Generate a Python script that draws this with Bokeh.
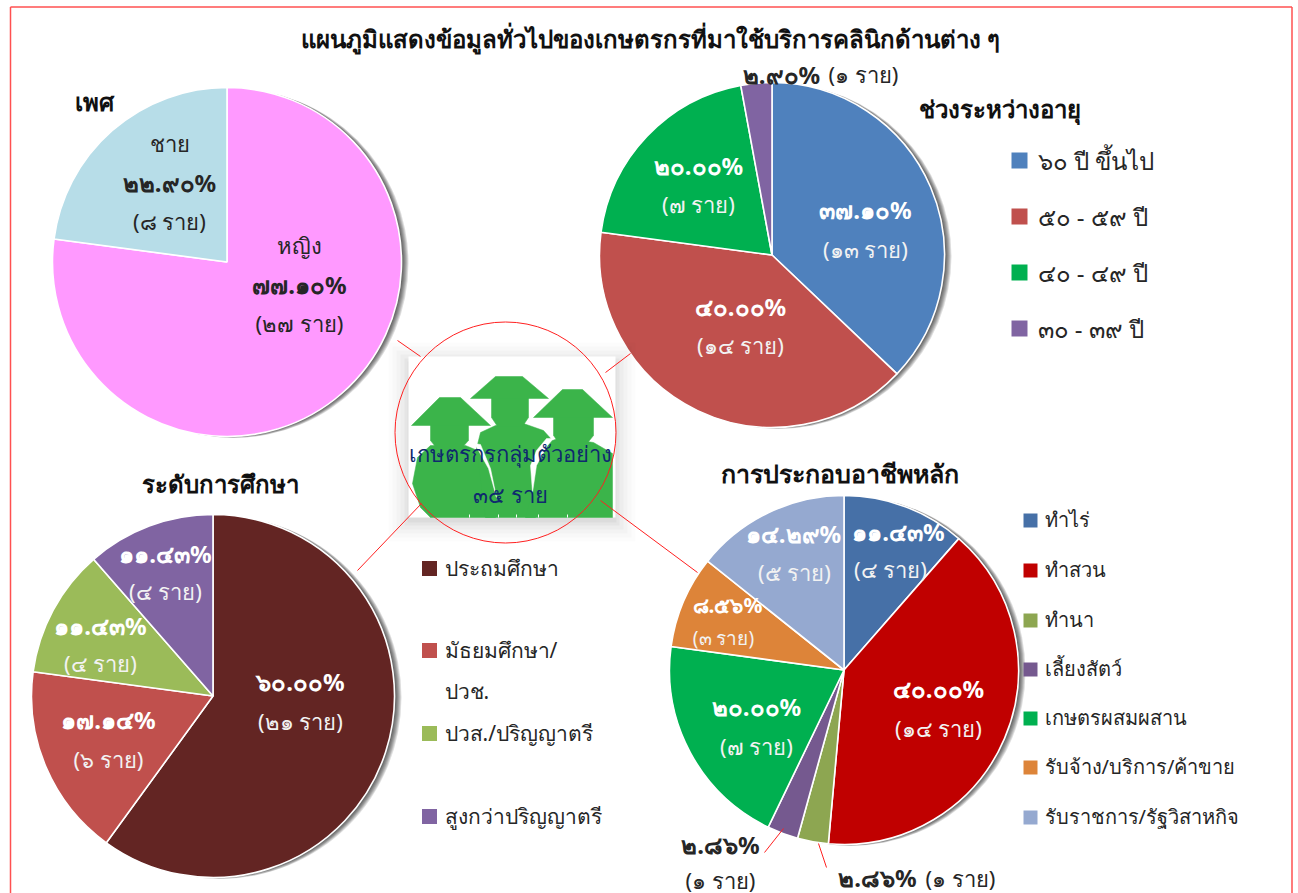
from math import pi
from bokeh.plotting import figure
from bokeh.embed import file_html
from bokeh.resources import INLINE
from bokeh.core.properties import value

FONT = "Noto Sans"
H = 893

# ---------- data ----------
gender_values = [77.10, 22.90]
gender_colors = ["#FF99FF", "#B7DDE8"]
age_values = [37.10, 40.00, 20.00, 2.90]
age_colors = ["#4F81BD", "#C0504D", "#00B050", "#8064A2"]
age_legend = ["๖๐ ปี ขึ้นไป", "๕๐ - ๕๙ ปี", "๔๐ - ๔๙ ปี", "๓๐ - ๓๙ ปี"]
edu_values = [60.00, 17.14, 11.43, 11.43]
edu_colors = ["#632523", "#C0504D", "#9BBB59", "#8064A2"]
edu_legend = ["ประถมศึกษา", "มัธยมศึกษา/", "ปวส./ปริญญาตรี", "สูงกว่าปริญญาตรี"]
job_values = [11.43, 40.00, 2.86, 2.86, 20.00, 8.56, 14.29]
job_colors = ["#4670A7", "#C00000", "#8DA651", "#75598F", "#00B050", "#DD8439", "#95A9D0"]
job_legend = ["ทำไร่", "ทำสวน", "ทำนา", "เลี้ยงสัตว์", "เกษตรผสมผสาน", "รับจ้าง/บริการ/ค้าขาย", "รับราชการ/รัฐวิสาหกิจ"]

p = figure(width=1298, height=893, x_range=(0, 1298), y_range=(0, 893),
           output_backend="svg", toolbar_location=None, min_border=0)
p.axis.visible = False
p.grid.visible = False
p.outline_line_color = None
p.background_fill_color = "white"


def Y(y):
    return H - y


def txt(s, x, y, size=22, bold=False, color="#262626", align="center"):
    p.text([x], [Y(y - 2)], text=[s], text_font=value(FONT), text_font_size=f"{size}px",
           text_font_style="bold" if bold else "normal", text_color=color,
           text_align=align, text_baseline="middle")


def pie(cx, cy, r, values, colors):
    # soft shadow cast to the right
    for k in [7, 6, 5, 4, 3, 2]:
        p.circle([cx + k], [Y(cy + k * 0.2)], radius=r, fill_color="#000000", fill_alpha=0.13, line_color=None)
    total = sum(values)
    start = pi / 2
    for v, c in zip(values, colors):
        end = start - 2 * pi * v / total
        p.wedge([cx], [Y(cy)], radius=r, start_angle=end, end_angle=start,
                fill_color=c, line_color="white", line_width=1.6)
        start = end


# frame
p.line([10, 10], [Y(6.5), Y(893)], line_color="#FF5050", line_width=1.5)
p.line([10, 1291.5], [Y(6.5), Y(6.5)], line_color="#FF5050", line_width=1.5)
p.line([1291.5, 1291.5], [Y(6.5), Y(893)], line_color="#FF5050", line_width=1.5)

pie(226.5, 261.5, 174.5, gender_values, gender_colors)
pie(771.5, 254.5, 172.5, age_values, age_colors)
pie(212.5, 695.5, 181.5, edu_values, edu_colors)
pie(843.5, 669.5, 174.5, job_values, job_colors)

# centre picture
for k, a in zip([20, 16, 12, 8, 4, 1], [0.012, 0.015, 0.02, 0.025, 0.03, 0.035]):
    p.quad(left=408 - k, right=615 + k, top=Y(358 - k + 4), bottom=Y(517 + k + 4), fill_color="black", fill_alpha=a, line_color=None)
p.quad(left=408, right=615, top=Y(356), bottom=Y(517), fill_color="white", line_color=None)
GREEN = "#3BB44A"


def shape(xs, ys, color=GREEN):
    p.patch(xs, [Y(y) for y in ys], fill_color=color, line_color=color, line_width=0.5)


# bodies
shape([430, 420, 412, 417, 430, 465, 477, 495, 495], [517, 507, 483, 457, 445, 445, 450, 497, 517])
shape([485, 476, 480, 495, 523, 543, 552, 540, 535], [517, 448, 432, 425, 423, 430, 440, 470, 517])
shape([525, 540, 552, 560, 593, 612, 612], [517, 460, 440, 437, 442, 453, 517])
# heads
shape([430, 468, 468, 459, 438, 430], [424, 424, 440, 450, 450, 440])
shape([553, 593, 593, 585, 560, 553], [416, 416, 435, 445, 445, 435])
shape([491, 528, 528, 522, 497, 491], [397, 397, 417, 426, 426, 417])
# hats
shape([411, 439, 460, 490], [425, 397, 397, 425])
shape([533, 562, 582, 612], [417, 389, 389, 417])
shape([470, 495, 522, 548], [398, 376, 376, 398])
# white slits between the figures
shape([474, 480, 490, 496, 488], [443, 444, 468, 497, 468], "white")
shape([553, 547, 536, 532, 530, 536, 546], [438, 445, 465, 492, 465, 450, 438], "white")
for tick_x in [469, 498, 516, 538, 567]:
    p.line([tick_x, tick_x], [Y(514), Y(517)], line_color="white", line_width=1)

# connector lines
for (x0, y0, x1, y1) in [(397, 340, 420, 356), (630, 353, 605, 372), (421, 503, 357, 570),
                         (600, 500, 697, 572), (783, 828, 764, 852), (818, 843, 826, 867)]:
    p.line([x0, x1], [Y(y0), Y(y1)], line_color="#FF2020", line_width=1)

p.circle([505], [Y(432)], radius=110.5, fill_color=None, line_color="#FF2020", line_width=1)
txt("เกษตรกรกลุ่มตัวอย่าง", 510, 454, 22, False, "#0F2A6E")
txt("๓๕ ราย", 510, 495, 22, False, "#0F2A6E")

# titles
txt("แผนภูมิแสดงข้อมูลทั่วไปของเกษตรกรที่มาใช้บริการคลินิกด้านต่าง ๆ", 650, 40, 24, True, "#111111")
txt("เพศ", 94, 103, 24, True, "#111111")
txt("ช่วงระหว่างอายุ", 999, 110, 24, True, "#111111")
txt("ระดับการศึกษา", 220, 485, 24, True, "#111111")
txt("การประกอบอาชีพหลัก", 839, 474, 25, True, "#111111")

# gender labels
txt("ชาย", 169, 144)
txt("๒๒.๙๐%", 169, 184, 24, True)
txt("(๘ ราย)", 169, 222)
txt("หญิง", 299, 246)
txt("๗๗.๑๐%", 299, 286, 24, True)
txt("(๒๗ ราย)", 299, 324)

# age labels
txt("๒.๙๐%", 781, 76, 24, True)
txt("(๑ ราย)", 863, 75)
for s, x, y, sz, b in [("๓๗.๑๐%", 865, 211, 24, True), ("(๑๓ ราย)", 865, 250, 22, False),
                       ("๔๐.๐๐%", 740, 308, 24, True), ("(๑๔ ราย)", 740, 346, 22, False),
                       ("๒๐.๐๐%", 698, 167, 24, True), ("(๗ ราย)", 698, 205, 22, False)]:
    txt(s, x, y, sz, b, "white" if b else "#F2F2F2")
for s, c, y in zip(age_legend, age_colors, [160, 216, 272, 328]):
    p.scatter([1019], [Y(y)], marker="square", size=16, fill_color=c, line_color=None)
    txt(s, 1037, y + 2, 24, False, "#262626", "left")

# education labels
for s, x, y, sz, b in [("๖๐.๐๐%", 300, 683, 24, True), ("(๒๑ ราย)", 300, 722, 22, False),
                       ("๑๗.๑๔%", 108, 721, 24, True), ("(๖ ราย)", 108, 760, 22, False),
                       ("๑๑.๔๓%", 100, 627, 24, True), ("(๔ ราย)", 100, 664, 22, False),
                       ("๑๑.๔๓%", 165, 555, 24, True), ("(๔ ราย)", 165, 592, 22, False)]:
    txt(s, x, y, sz, b, "white" if b else "#F2F2F2")
for s, c, y in zip(edu_legend, edu_colors, [568, 650, 733, 816]):
    p.scatter([429], [Y(y)], marker="square", size=15, fill_color=c, line_color=None)
    txt(s, 444, y + 1, 21, False, "#262626", "left")
txt("ปวช.", 444, 692, 21, False, "#262626", "left")

# job labels
for s, x, y, sz, b in [("๑๑.๔๓%", 898, 533, 24, True), ("(๔ ราย)", 890, 570, 22, False),
                       ("๔๐.๐๐%", 938, 690, 24, True), ("(๑๔ ราย)", 938, 729, 22, False),
                       ("๒๐.๐๐%", 756, 708, 24, True), ("(๗ ราย)", 756, 747, 22, False),
                       ("๘.๕๖%", 727, 606, 21, True), ("(๓ ราย)", 723, 639, 19, False),
                       ("๑๔.๒๙%", 793, 535, 24, True), ("(๕ ราย)", 794, 573, 22, False)]:
    txt(s, x, y, sz, b, "white" if b else "#F2F2F2")
txt("๒.๘๖%", 720, 846, 24, True)
txt("(๑ ราย)", 720, 881, 22)
txt("๒.๘๖%", 877, 879, 24, True)
txt("(๑ ราย)", 960, 879, 22)
for s, c, y in zip(job_legend, job_colors, [520, 570, 620, 669, 718, 767, 817]):
    p.scatter([1030], [Y(y)], marker="square", size=14, fill_color=c, line_color=None)
    txt(s, 1044, y + 1, 20, False, "#262626", "left")

open("out.html", "w").write(file_html(p, INLINE))
